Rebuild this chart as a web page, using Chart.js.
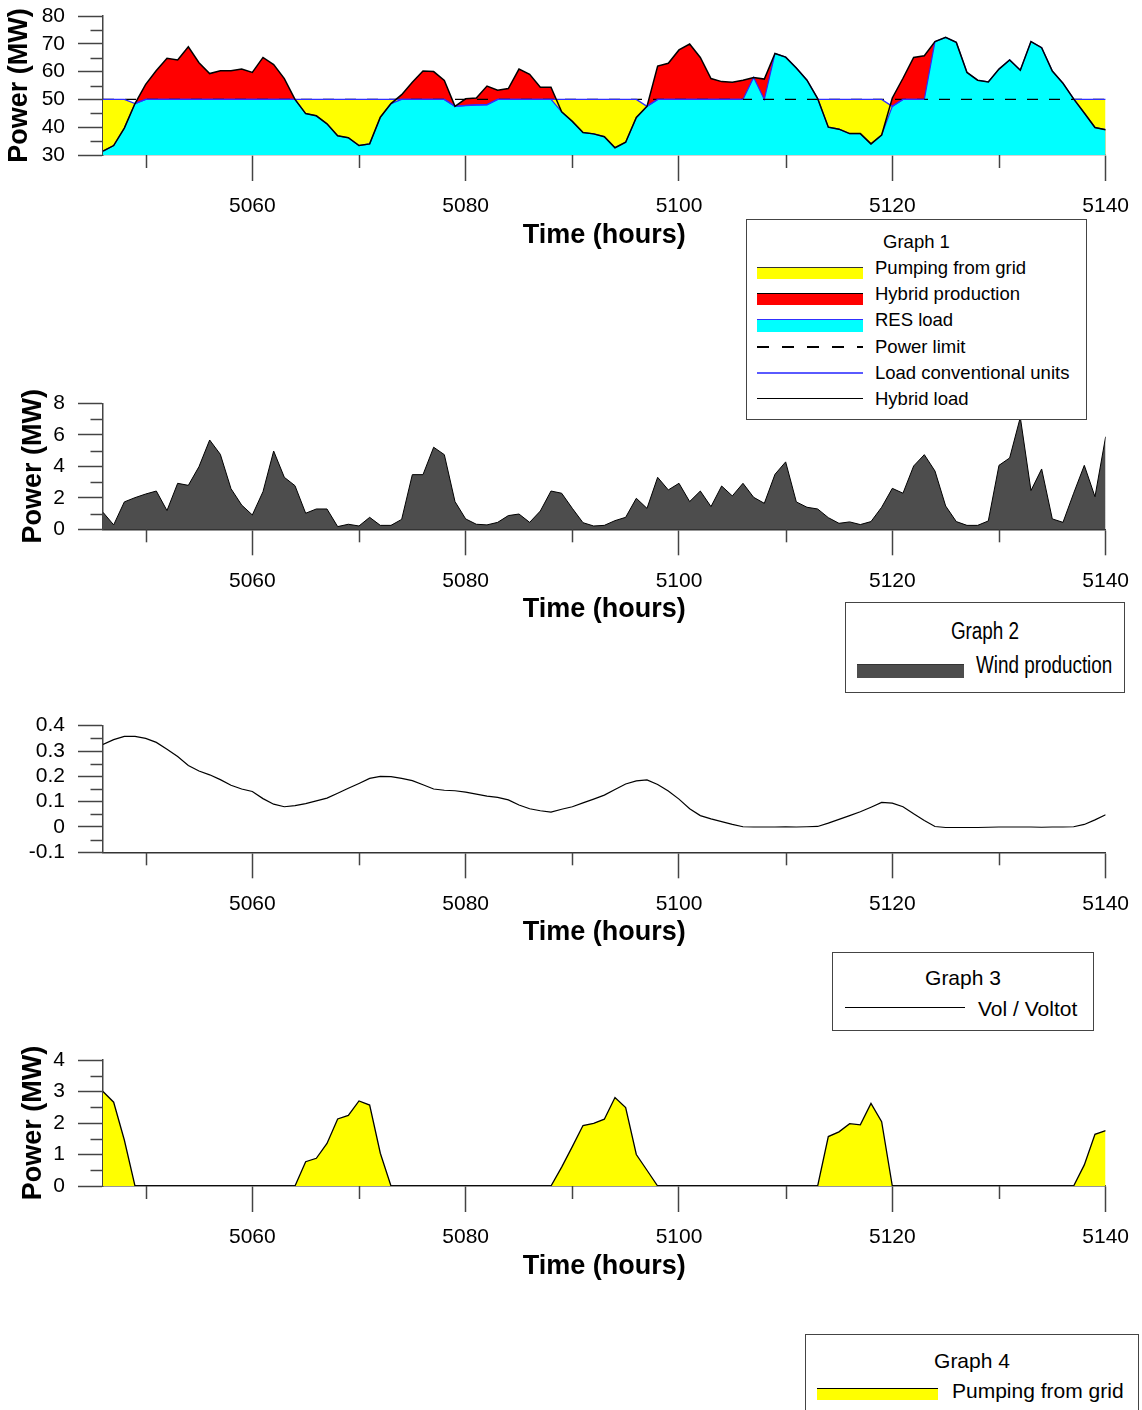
<!DOCTYPE html>
<html>
<head>
<meta charset="utf-8">
<script src="https://cdn.jsdelivr.net/npm/chart.js@4.4.1/dist/chart.umd.min.js"></script>
<style>
  html, body { margin: 0; padding: 0; background: #fff; width: 1142px; height: 1410px; overflow: hidden; }
  body { position: relative; font-family: "Liberation Sans", Arial, sans-serif; color: #000; }
  canvas { position: absolute; left: 0; }
  .legend { position: absolute; border: 1px solid #444; background: #fff; box-sizing: border-box; z-index: 2; }
  .legend .t { position: absolute; left: 0; right: 0; text-align: center; transform: translateY(-50%); line-height: 1; white-space: nowrap; }
  .legend .lbl { position: absolute; transform: translateY(-50%); line-height: 1; white-space: nowrap; }
  .legend .sw { position: absolute; box-sizing: border-box; }
  .legend.narrow .t { transform: translateY(-50%) scaleX(0.82); transform-origin: center center; }
  .legend.narrow .lbl { transform: translateY(-50%) scaleX(0.82); transform-origin: left center; }
</style>
</head>
<body>
<canvas id="g1" width="1142" height="274" style="top:-14px"></canvas>
<canvas id="g2" width="1142" height="267" style="top:373px"></canvas>
<canvas id="g3" width="1142" height="264" style="top:696px"></canvas>
<canvas id="g4" width="1142" height="270" style="top:1030px"></canvas>

<div class="legend" style="left:746px;top:219px;width:341px;height:201px;font-size:18.5px;">
  <div class="t" style="top:22px;">Graph 1</div>
  <div class="sw" style="left:10px;top:47px;width:106px;height:12px;background:#ffff00;border-top:1.5px solid #333;"></div>
  <div class="lbl" style="left:128px;top:48px;">Pumping from grid</div>
  <div class="sw" style="left:10px;top:73px;width:106px;height:12px;background:#ff0000;border-top:1.5px solid #000;"></div>
  <div class="lbl" style="left:128px;top:74px;">Hybrid production</div>
  <div class="sw" style="left:10px;top:99px;width:106px;height:13px;background:#00ffff;border-top:1.5px solid #3030ff;"></div>
  <div class="lbl" style="left:128px;top:100px;">RES load</div>
  <div class="sw" style="left:10px;top:126px;width:106px;height:1.5px;background:repeating-linear-gradient(to right,#000 0 12px,transparent 12px 25px);"></div>
  <div class="lbl" style="left:128px;top:127px;">Power limit</div>
  <div class="sw" style="left:10px;top:152px;width:106px;height:1.5px;background:#5a5aff;"></div>
  <div class="lbl" style="left:128px;top:153px;">Load conventional units</div>
  <div class="sw" style="left:10px;top:178px;width:106px;height:1.2px;background:#000;"></div>
  <div class="lbl" style="left:128px;top:179px;">Hybrid load</div>
</div>

<div class="legend narrow" style="left:845px;top:602px;width:280px;height:91px;font-size:23px;">
  <div class="t" style="top:28px;">Graph 2</div>
  <div class="sw" style="left:11px;top:61px;width:107px;height:14px;background:#4d4d4d;border-top:1.5px solid #333;"></div>
  <div class="lbl" style="left:130px;top:62px;">Wind production</div>
</div>

<div class="legend" style="left:832px;top:952px;width:262px;height:79px;font-size:21px;">
  <div class="t" style="top:24px;">Graph 3</div>
  <div class="sw" style="left:12px;top:54px;width:120px;height:1.2px;background:#000;"></div>
  <div class="lbl" style="left:145px;top:55px;">Vol / Voltot</div>
</div>

<div class="legend" style="left:805px;top:1334px;width:334px;height:82px;font-size:21px;">
  <div class="t" style="top:25px;">Graph 4</div>
  <div class="sw" style="left:11px;top:53px;width:121px;height:12px;background:#ffff00;border-top:1.5px solid #000;"></div>
  <div class="lbl" style="left:146px;top:55px;">Pumping from grid</div>
</div>

<script>
// time axis (hours)
const hours = [
  5046, 5047, 5048, 5049, 5050, 5051, 5052, 5053, 5054, 5055,
  5056, 5057, 5058, 5059, 5060, 5061, 5062, 5063, 5064, 5065,
  5066, 5067, 5068, 5069, 5070, 5071, 5072, 5073, 5074, 5075,
  5076, 5077, 5078, 5079, 5080, 5081, 5082, 5083, 5084, 5085,
  5086, 5087, 5088, 5089, 5090, 5091, 5092, 5093, 5094, 5095,
  5096, 5097, 5098, 5099, 5100, 5101, 5102, 5103, 5104, 5105,
  5106, 5107, 5108, 5109, 5110, 5111, 5112, 5113, 5114, 5115,
  5116, 5117, 5118, 5119, 5120, 5121, 5122, 5123, 5124, 5125,
  5126, 5127, 5128, 5129, 5130, 5131, 5132, 5133, 5134, 5135,
  5136, 5137, 5138, 5139, 5140
];

// Graph 1 (MW)
const hybridLoad = [
  31.4, 33.4, 39.7, 48.5, 55.4, 60.4, 64.8, 64.2, 68.9, 63.2,
  59.3, 60.3, 60.3, 60.9, 59.7, 65.1, 62.5, 57.5, 50.0, 44.9,
  44.1, 41.2, 36.9, 36.2, 33.4, 34.0, 43.6, 48.5, 51.7, 56.2,
  60.2, 60.0, 56.8, 47.5, 50.2, 50.5, 54.8, 53.3, 53.9, 60.9,
  59.0, 54.4, 54.4, 45.5, 42.1, 38.1, 37.6, 36.6, 32.6, 34.6,
  43.5, 47.5, 62.0, 63.0, 67.8, 69.9, 65.1, 57.5, 56.4, 56.2,
  56.9, 57.9, 57.3, 66.5, 65.2, 61.3, 56.9, 50.3, 40.0, 39.3,
  37.7, 37.7, 34.0, 37.2, 50.5, 57.6, 65.1, 65.7, 70.8, 72.3,
  70.5, 59.7, 56.9, 56.3, 60.9, 64.2, 60.5, 70.8, 68.6, 60.2,
  55.8, 50.2, 45.1, 39.9, 39.1
];
const resLoad = [
  31.4, 33.4, 39.7, 48.5, 50.0, 50.0, 50.0, 50.0, 50.0, 50.0,
  50.0, 50.0, 50.0, 50.0, 50.0, 50.0, 50.0, 50.0, 50.0, 44.9,
  44.1, 41.2, 36.9, 36.2, 33.4, 34.0, 43.6, 48.5, 50.0, 50.0,
  50.0, 50.0, 50.0, 47.5, 47.8, 48.0, 48.1, 50.0, 50.0, 50.0,
  50.0, 50.0, 50.0, 45.5, 42.1, 38.1, 37.6, 36.6, 32.6, 34.6,
  43.5, 47.5, 50.0, 50.0, 50.0, 50.0, 50.0, 50.0, 50.0, 50.0,
  50.0, 57.9, 50.0, 66.5, 65.2, 61.3, 56.9, 50.3, 40.0, 39.3,
  37.7, 37.7, 34.0, 37.2, 47.5, 50.0, 50.0, 50.0, 70.8, 72.3,
  70.5, 59.7, 56.9, 56.3, 60.9, 64.2, 60.5, 70.8, 68.6, 60.2,
  55.8, 50.2, 45.1, 39.9, 39.1
];
const convLoad = [
  50, 50, 50, 48.5, 50, 50, 50, 50, 50, 50,
  50, 50, 50, 50, 50, 50, 50, 50, 50, 50,
  50, 50, 50, 50, 50, 50, 50, 50, 50, 50,
  50, 50, 50, 47.5, 47.8, 48.0, 48.1, 50, 50, 50,
  50, 50, 50, 50, 50, 50, 50, 50, 50, 50,
  50, 47.5, 50, 50, 50, 50, 50, 50, 50, 50,
  50, null, 50, null, null, null, null, 50, 50, 50,
  50, 50, 50, 50, 47.5, 50, 50, 50, null, null,
  null, null, null, null, null, null, null, null, null, null,
  null, 50, 50, 50, 50
];
const powerLimit = 50;

// Graph 2 (MW)
const windProduction = [
  1.08, 0.28, 1.74, 2.01, 2.24, 2.43, 1.19, 2.92, 2.79, 3.98,
  5.67, 4.76, 2.58, 1.54, 0.91, 2.39, 4.97, 3.30, 2.77, 1.02,
  1.29, 1.29, 0.17, 0.32, 0.21, 0.76, 0.25, 0.25, 0.63, 3.47,
  3.47, 5.21, 4.74, 1.76, 0.66, 0.32, 0.28, 0.44, 0.87, 0.97,
  0.44, 1.16, 2.43, 2.29, 1.33, 0.42, 0.21, 0.25, 0.55, 0.76,
  1.97, 1.33, 3.30, 2.50, 2.92, 1.76, 2.43, 1.44, 2.75, 2.12,
  2.92, 2.03, 1.65, 3.49, 4.28, 1.74, 1.40, 1.29, 0.74, 0.38,
  0.47, 0.30, 0.49, 1.40, 2.60, 2.29, 4.02, 4.74, 3.70, 1.48,
  0.49, 0.25, 0.25, 0.53, 4.06, 4.53, 7.11, 2.46, 3.83, 0.66,
  0.44, 2.29, 4.06, 2.07, 5.88
];

// Graph 3 (Vol / Voltot)
const volRatio = [
  0.326, 0.345, 0.358, 0.358, 0.350, 0.334, 0.307, 0.278, 0.243, 0.221,
  0.206, 0.187, 0.165, 0.150, 0.140, 0.112, 0.090, 0.080, 0.084, 0.092,
  0.103, 0.114, 0.133, 0.153, 0.172, 0.192, 0.200, 0.199, 0.192, 0.183,
  0.167, 0.150, 0.145, 0.143, 0.138, 0.130, 0.122, 0.117, 0.107, 0.087,
  0.072, 0.064, 0.059, 0.070, 0.080, 0.095, 0.110, 0.126, 0.148, 0.170,
  0.182, 0.186, 0.168, 0.142, 0.110, 0.072, 0.045, 0.032, 0.021, 0.010,
  0.001, 0.000, 0.000, 0.000, 0.001, 0.000, 0.001, 0.002, 0.015, 0.030,
  0.045, 0.060, 0.078, 0.097, 0.094, 0.080, 0.052, 0.026, 0.002, -0.002,
  -0.002, -0.002, -0.002, -0.001, 0.000, 0.000, 0.000, 0.000, -0.001, 0.000,
  0.000, 0.001, 0.010, 0.028, 0.048
];

// Graph 4 (MW)
const gridPumping = [
  3.00, 2.66, 1.46, 0, 0, 0, 0, 0, 0, 0,
  0, 0, 0, 0, 0, 0, 0, 0, 0, 0.77,
  0.88, 1.35, 2.13, 2.24, 2.70, 2.57, 1.04, 0, 0, 0,
  0, 0, 0, 0, 0, 0, 0, 0, 0, 0,
  0, 0, 0, 0.60, 1.25, 1.92, 1.99, 2.12, 2.81, 2.49,
  1.00, 0.50, 0, 0, 0, 0, 0, 0, 0, 0,
  0, 0, 0, 0, 0, 0, 0, 0, 1.57, 1.72,
  1.98, 1.94, 2.62, 2.04, 0, 0, 0, 0, 0, 0,
  0, 0, 0, 0, 0, 0, 0, 0, 0, 0,
  0, 0, 0.67, 1.64, 1.76
];

// ticks
const xTicks = [5050, 5060, 5070, 5080, 5090, 5100, 5110, 5120, 5130, 5140];
const xTickLabels = [5060, 5080, 5100, 5120, 5140];
const g1Ticks = [30, 35, 40, 45, 50, 55, 60, 65, 70, 75, 80];
const g1Labels = [30, 40, 50, 60, 70, 80];
const g2Ticks = [0, 1, 2, 3, 4, 5, 6, 7, 8];
const g2Labels = [0, 2, 4, 6, 8];
const g3Ticks = [-0.1, -0.05, 0, 0.05, 0.1, 0.15, 0.2, 0.25, 0.3, 0.35, 0.4];
const g3Labels = [-0.1, 0, 0.1, 0.2, 0.3, 0.4];
const g4Ticks = [0, 0.5, 1, 1.5, 2, 2.5, 3, 3.5, 4];
const g4Labels = [0, 1, 2, 3, 4];

Chart.defaults.font.family = '"Liberation Sans", Arial, sans-serif';
Chart.defaults.color = '#000';

const AXIS = '#444';
const hasValue = (list, v) => list.some((l) => Math.abs(l - v) < 1e-9);
const tickColor = (c) => (c.tick && c.tick.label === '' ? 'rgba(0,0,0,0)' : AXIS);

// short ticks for unlabeled values
const minorTicks = {
  id: 'minorTicks',
  afterDraw(chart) {
    const ctx = chart.ctx;
    ctx.save();
    ctx.strokeStyle = AXIS;
    ctx.lineWidth = 1.5;
    Object.values(chart.scales).forEach((scale) => {
      scale.ticks.forEach((t) => {
        if (t.label !== '') return;
        const p = Math.round(scale.getPixelForValue(t.value)) + 0.5;
        ctx.beginPath();
        if (scale.isHorizontal()) {
          ctx.moveTo(p, scale.top);
          ctx.lineTo(p, scale.top + 13);
        } else {
          ctx.moveTo(scale.right - 12.5, p);
          ctx.lineTo(scale.right, p);
        }
        ctx.stroke();
      });
    });
    ctx.restore();
  }
};

function makeChart(id, g, datasets) {
  return new Chart(document.getElementById(id), {
    type: 'line',
    data: { labels: hours, datasets: datasets },
    options: {
      responsive: false,
      animation: false,
      layout: { padding: { top: g.areaTop, right: 34, bottom: 0, left: 0 } },
      plugins: { legend: { display: false }, tooltip: { enabled: false } },
      elements: { point: { radius: 0 }, line: { tension: 0 } },
      scales: {
        x: {
          type: 'linear',
          min: 5046,
          max: 5140,
          afterBuildTicks: (s) => { s.ticks = xTicks.map((v) => ({ value: v })); },
          afterFit: (s) => { s.height = g.xHeight; },
          ticks: {
            autoSkip: false, maxRotation: 0, padding: 13, color: '#000', font: { size: 21 },
            callback: (v) => (xTickLabels.includes(v) ? String(v) : '')
          },
          grid: { drawOnChartArea: false, tickLength: 26, tickWidth: 1.5, tickColor: tickColor },
          border: { color: g.xBorder, width: 1.5 },
          title: {
            display: true, text: 'Time (hours)', color: '#000',
            font: { size: 27, weight: 'bold' },
            padding: { top: 0, bottom: g.xTitlePad }
          }
        },
        y: {
          min: g.min,
          max: g.max,
          afterBuildTicks: (s) => { s.ticks = g.ticks.map((v) => ({ value: v })); },
          afterFit: (s) => { s.width = 103; },
          ticks: {
            autoSkip: false, padding: 13, color: '#000', font: { size: 21 },
            callback: (v) => (hasValue(g.labels, v) ? String(v) : '')
          },
          grid: { drawOnChartArea: false, tickLength: 25, tickWidth: 1.5, tickColor: tickColor },
          border: { color: AXIS, width: 1.5 },
          title: {
            display: !!g.yTitle, text: g.yTitle || '', color: '#000',
            font: { size: 27, weight: 'bold' },
            padding: { top: g.yTitlePad || 0, bottom: 0 }
          }
        }
      }
    },
    plugins: [minorTicks]
  });
}

makeChart('g1', {
  areaTop: 30, xHeight: 105, xTitlePad: 7.8, xBorder: '#aaa',
  min: 30, max: 80, ticks: g1Ticks, labels: g1Labels, yTitle: 'Power (MW)', yTitlePad: 3
}, [
  { label: 'Hybrid production', data: hybridLoad, borderWidth: 0, borderColor: 'rgba(0,0,0,0)',
    backgroundColor: '#ff0000', fill: 'start', order: 6 },
  { label: 'Pumping from grid', data: convLoad, borderWidth: 0, borderColor: 'rgba(0,0,0,0)',
    backgroundColor: '#ffff00', fill: 'start', order: 5 },
  { label: 'RES load', data: resLoad, borderColor: '#2a2aff', borderWidth: 1.2,
    backgroundColor: '#00ffff', fill: 'start', order: 4 },
  { label: 'Power limit', data: hours.map(() => powerLimit), borderColor: '#000', borderWidth: 1.4,
    borderDash: [11, 11], fill: false, order: 3 },
  { label: 'Load conventional units', data: convLoad, borderColor: '#3030ff', borderWidth: 1.4,
    fill: false, order: 2 },
  { label: 'Hybrid load', data: hybridLoad, borderColor: '#000', borderWidth: 1.5, fill: false, order: 1 }
]);

makeChart('g2', {
  areaTop: 30.3, xHeight: 110.7, xTitlePad: 13.8, xBorder: '#333',
  min: 0, max: 8, ticks: g2Ticks, labels: g2Labels, yTitle: 'Power (MW)', yTitlePad: 17
}, [
  { label: 'Wind production', data: windProduction, borderColor: '#000', borderWidth: 1,
    backgroundColor: '#4d4d4d', fill: 'origin' }
]);

makeChart('g3', {
  areaTop: 29.7, xHeight: 107.7, xTitlePad: 10.8, xBorder: '#333',
  min: -0.1, max: 0.4, ticks: g3Ticks, labels: g3Labels
}, [
  { label: 'Vol / Voltot', data: volRatio, borderColor: '#000', borderWidth: 1.2, fill: false }
]);

makeChart('g4', {
  areaTop: 30, xHeight: 114, xTitlePad: 16.8, xBorder: '#333',
  min: 0, max: 4, ticks: g4Ticks, labels: g4Labels, yTitle: 'Power (MW)', yTitlePad: 17
}, [
  { label: 'Pumping from grid', data: gridPumping, borderColor: '#000', borderWidth: 1.3,
    backgroundColor: '#ffff00', fill: 'origin' }
]);
</script>
</body>
</html>
